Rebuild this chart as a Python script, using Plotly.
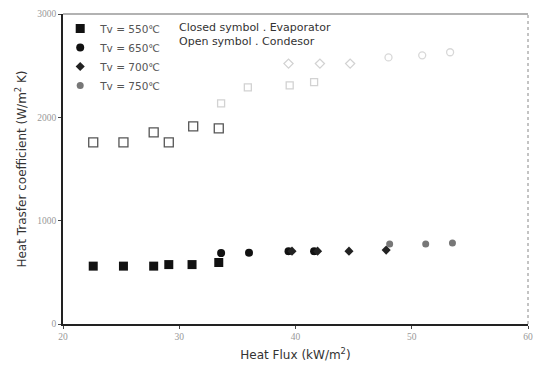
import plotly.graph_objects as go

# Evaporator (closed symbols) data, heat flux kW/m2 vs h W/m2K
evap_550_x = [22.6, 25.2, 27.8, 29.1, 31.1, 33.4]
evap_550_y = [560, 560, 560, 575, 575, 595]
evap_650_x = [33.6, 36.0, 39.4, 41.6]
evap_650_y = [686, 690, 705, 705]
evap_700_x = [39.7, 41.9, 44.6, 47.8]
evap_700_y = [705, 705, 705, 715]
evap_750_x = [48.1, 51.2, 53.5]
evap_750_y = [775, 775, 785]

# Condenser (open symbols) data
cond_550_x = [22.6, 25.2, 27.8, 29.1, 31.2, 33.4]
cond_550_y = [1758, 1758, 1855, 1758, 1913, 1894]
cond_650_x = [33.6, 35.9, 39.5, 41.6]
cond_650_y = [2135, 2290, 2310, 2340]
cond_700_x = [39.4, 42.1, 44.7]
cond_700_y = [2520, 2520, 2520]
cond_750_x = [48.0, 50.9, 53.3]
cond_750_y = [2580, 2600, 2630]

legend_names = ["Tv = 550\u2103", "Tv = 650\u2103", "Tv = 700\u2103", "Tv = 750\u2103"]

fig = go.Figure()

evap_series = [
    (evap_550_x, evap_550_y, "square", "#111111", 9),
    (evap_650_x, evap_650_y, "circle", "#111111", 8),
    (evap_700_x, evap_700_y, "diamond", "#222222", 7),
    (evap_750_x, evap_750_y, "circle", "#777777", 7),
]
for (xs, ys, sym, col, sz), name in zip(evap_series, legend_names):
    fig.add_trace(go.Scatter(
        x=xs, y=ys, mode="markers", name=name,
        marker=dict(symbol=sym, color=col, size=sz),
    ))

cond_series = [
    (cond_550_x, cond_550_y, "square-open", "#555555", 9),
    (cond_650_x, cond_650_y, "square-open", "#d2d2d2", 7),
    (cond_700_x, cond_700_y, "diamond-open", "#d2d2d2", 7),
    (cond_750_x, cond_750_y, "circle-open", "#d8d8d8", 7),
]
for xs, ys, sym, col, sz in cond_series:
    fig.add_trace(go.Scatter(
        x=xs, y=ys, mode="markers", showlegend=False,
        marker=dict(symbol=sym, color=col, size=sz, line=dict(width=1.3, color=col)),
    ))

fig.add_annotation(x=0.245, y=0.985, xref="paper", yref="paper", xanchor="left", yanchor="top",
                   text="Closed symbol . Evaporator<br>Open symbol . Condesor",
                   showarrow=False, align="left",
                   font=dict(family="DejaVu Sans", size=11, color="#333333"))

# top and right frame edges (lighter than the main axes)
fig.add_shape(type="line", xref="paper", yref="paper", x0=0, x1=1, y0=1, y1=1,
              line=dict(color="#666666", width=1.2))
fig.add_shape(type="line", xref="paper", yref="paper", x0=1, x1=1, y0=0, y1=1,
              line=dict(color="#888888", width=1, dash="dot"))

fig.update_layout(
    width=541, height=368,
    margin=dict(l=63, r=8, t=14, b=44),
    paper_bgcolor="white", plot_bgcolor="white",
    showlegend=True,
    legend=dict(x=-0.006, y=1.0, xanchor="left", yanchor="top",
                bgcolor="rgba(0,0,0,0)", tracegroupgap=0, itemwidth=30,
                font=dict(family="DejaVu Sans", size=10.5, color="#555555")),
    xaxis=dict(range=[20, 60], tickvals=[20, 30, 40, 50, 60], showgrid=False, zeroline=False,
               showline=True, linecolor="#222222", linewidth=1.5,
               ticks="outside", ticklen=3, tickcolor="#444444",
               tickfont=dict(family="Liberation Serif", size=9.5, color="#999999"),
               title=dict(text="Heat Flux (kW/m<sup>2</sup>)", standoff=9,
                          font=dict(family="DejaVu Sans", size=12, color="#333333"))),
    yaxis=dict(range=[0, 3000], tickvals=[0, 1000, 2000, 3000], showgrid=False, zeroline=False,
               showline=True, linecolor="#222222", linewidth=1.5,
               ticks="outside", ticklen=3, tickcolor="#444444",
               tickfont=dict(family="Liberation Serif", size=9.5, color="#999999"),
               title=dict(text="Heat Trasfer coefficient (W/m<sup>2</sup> K)", standoff=8,
                          font=dict(family="DejaVu Sans", size=12, color="#333333"))),
)

fig.write_html("out.html")
